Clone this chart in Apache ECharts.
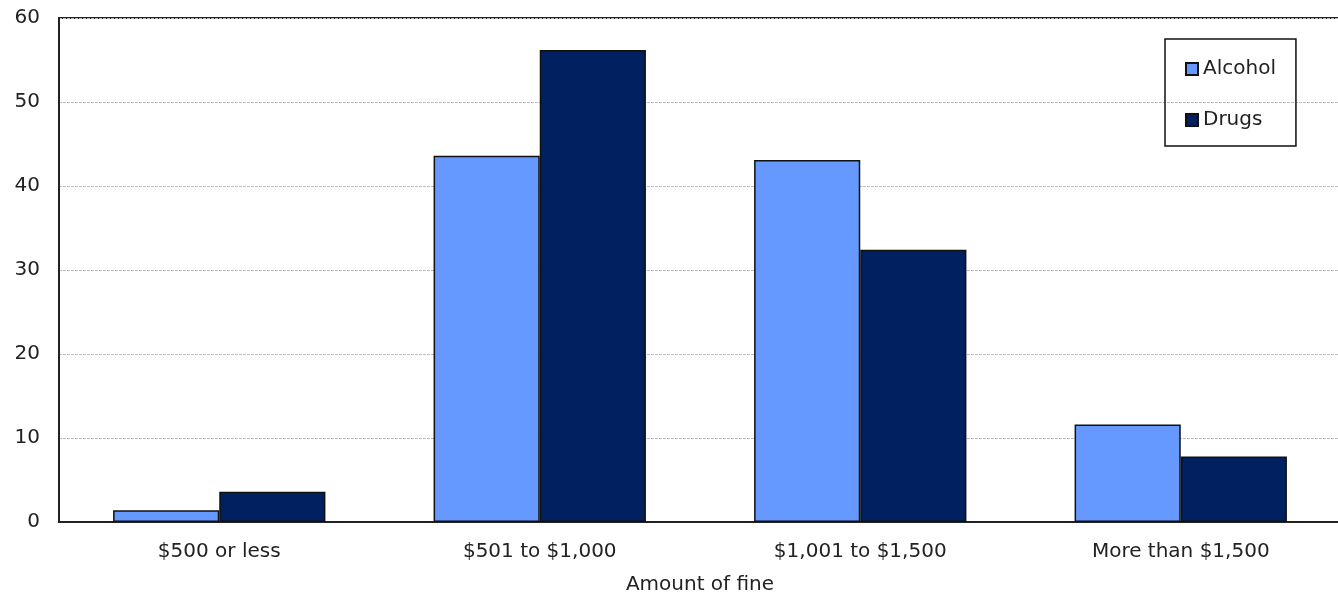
<!DOCTYPE html>
<html>
<head>
<meta charset="utf-8">
<script src="https://cdn.jsdelivr.net/npm/echarts@6/dist/echarts.min.js"></script>
<style>
  html, body { margin: 0; padding: 0; background: #fff; }
  #chart { width: 1338px; height: 596px; }
</style>
</head>
<body>
<div id="chart"></div>
<script>
// Fine amounts by offence type (per cent)
const categories = ['$500 or less', '$501 to $1,000', '$1,001 to $1,500', 'More than $1,500'];
const alcohol = [1.4, 43.6, 43.1, 11.6];
const drugs = [3.6, 56.2, 32.4, 7.8];
const yTicks = { min: 0, max: 60, interval: 10 };

const textColor = '#222';
const font = 'DejaVu Sans, Verdana, sans-serif';

const chart = echarts.init(document.getElementById('chart'), null, { renderer: 'canvas' });
chart.setOption({
  animation: false,
  backgroundColor: '#fff',
  grid: {
    left: 59, top: 18, right: -3, bottom: 74,
    outerBoundsMode: 'none',
    containLabel: false,
    show: true, borderColor: '#222', borderWidth: 2
  },
  legend: {
    left: 1165, top: 39,
    orient: 'vertical',
    padding: [20, 20, 16, 20],
    itemGap: 31,
    itemWidth: 12, itemHeight: 12,
    icon: 'rect',
    borderColor: '#111', borderWidth: 1.5,
    textStyle: { color: textColor, fontSize: 20, fontFamily: font },
    data: ['Alcohol', 'Drugs']
  },
  xAxis: {
    type: 'category',
    data: categories,
    name: 'Amount of fine',
    nameLocation: 'middle',
    nameGap: 53,
    nameTextStyle: { color: textColor, fontSize: 20, fontFamily: font },
    axisLine: { lineStyle: { color: '#222', width: 2 } },
    axisTick: { show: false },
    axisLabel: { color: textColor, fontSize: 20, fontFamily: font, margin: 20 }
  },
  yAxis: {
    type: 'value',
    min: yTicks.min, max: yTicks.max, interval: yTicks.interval,
    axisLine: { show: true, lineStyle: { color: '#222', width: 2 } },
    axisTick: { show: false },
    axisLabel: { color: textColor, fontSize: 20, fontFamily: font, margin: 19 },
    splitLine: { lineStyle: { color: '#bdbdbd', width: 1, type: [3, 1] } }
  },
  series: [
    {
      name: 'Alcohol', type: 'bar', data: alcohol,
      barGap: '0%', barCategoryGap: '33.75%',
      itemStyle: { color: '#6699ff', borderColor: '#111', borderWidth: 1.5 }
    },
    {
      name: 'Drugs', type: 'bar', data: drugs,
      barGap: '0%', barCategoryGap: '33.75%',
      itemStyle: { color: '#00205f', borderColor: '#111', borderWidth: 1.5 }
    }
  ]
});
</script>
</body>
</html>
